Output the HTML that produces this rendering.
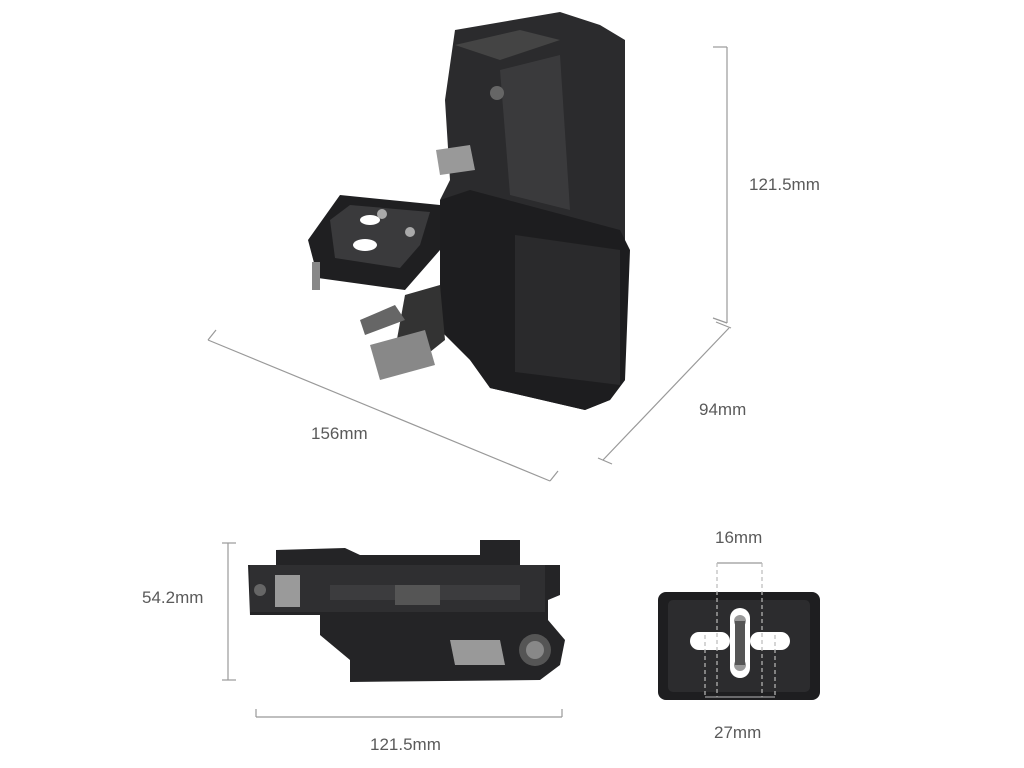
<!DOCTYPE html>
<html><head><meta charset="utf-8"><style>
html,body{margin:0;padding:0;background:#fff;width:1024px;height:768px;overflow:hidden}
svg{display:block}
text{font-family:"Liberation Sans",sans-serif;font-size:17px;fill:#5a5a5a}
</style></head><body>
<svg width="1024" height="768" viewBox="0 0 1024 768">
<g stroke="#999" stroke-width="1.2" fill="none">
<line x1="727" y1="47" x2="727" y2="323"/><line x1="713" y1="47" x2="727" y2="47"/><line x1="713" y1="318" x2="727" y2="323"/>
<line x1="729" y1="328" x2="603" y2="460"/><line x1="716" y1="322" x2="731" y2="328"/><line x1="598" y1="458" x2="612" y2="464"/>
<line x1="208" y1="340" x2="550" y2="481"/><line x1="208" y1="340" x2="216" y2="330"/><line x1="550" y1="481" x2="558" y2="471"/>
<line x1="228" y1="543" x2="228" y2="680"/><line x1="222" y1="543" x2="236" y2="543"/><line x1="222" y1="680" x2="236" y2="680"/>
<line x1="256" y1="717" x2="562" y2="717"/><line x1="256" y1="709" x2="256" y2="717"/><line x1="562" y1="709" x2="562" y2="717"/>
</g>
<text x="749" y="190">121.5mm</text>
<text x="699" y="415">94mm</text>
<text x="311" y="439">156mm</text>
<text x="142" y="603">54.2mm</text>
<text x="370" y="750">121.5mm</text>
<text x="715" y="543">16mm</text>
<text x="714" y="738">27mm</text>

<g>
<path d="M455 30 L560 12 L600 25 L625 40 L625 380 L610 400 L585 410 L490 388 L485 370 L470 360 L470 300 L445 280 L440 200 L450 180 L445 100 Z" fill="#2b2b2d"/>
<path d="M440 200 L470 190 L620 230 L630 250 L625 380 L610 400 L585 410 L490 388 L470 360 L440 330 Z" fill="#1d1d1f"/>
<path d="M515 235 L620 250 L620 385 L515 372 Z" fill="#2a2a2c"/>
<path d="M500 70 L560 55 L570 210 L510 195 Z" fill="#3a3a3c"/>
<path d="M455 45 L520 30 L560 40 L500 60 Z" fill="#444"/>
<circle cx="497" cy="93" r="7" fill="#666"/>
<path d="M308 240 L340 195 L440 205 L440 250 L405 290 L318 278 Z" fill="#1f1f21"/>
<path d="M330 220 L350 205 L430 212 L420 245 L400 268 L335 258 Z" fill="#3a3a3c"/>
<ellipse cx="370" cy="220" rx="10" ry="5" fill="#fff"/><ellipse cx="365" cy="245" rx="12" ry="6" fill="#fff"/>
<circle cx="382" cy="214" r="5" fill="#aaa"/><circle cx="410" cy="232" r="5" fill="#aaa"/>
<path d="M405 295 L440 285 L445 340 L420 360 L395 350 Z" fill="#333"/>
<path d="M360 320 L395 305 L405 320 L365 335 Z" fill="#666"/>
<path d="M370 345 L425 330 L435 365 L380 380 Z" fill="#888"/>
<path d="M436 150 L470 145 L475 170 L440 175 Z" fill="#999"/>
<path d="M312 262 L320 262 L320 290 L312 290 Z" fill="#888"/>
</g>

<g>
<path d="M276 550 L345 548 L360 555 L480 555 L480 540 L520 540 L520 565 L560 565 L560 595 L548 600 L548 620 L565 640 L560 665 L540 680 L350 682 L350 660 L320 635 L320 615 L250 615 L248 565 L276 565 Z" fill="#242426"/>
<path d="M250 565 L545 565 L545 612 L250 612 Z" fill="#2f2f31"/>
<path d="M330 585 L520 585 L520 600 L330 600 Z" fill="#3c3c3e"/>
<rect x="275" y="575" width="25" height="32" fill="#9a9a9a"/>
<rect x="395" y="585" width="45" height="20" fill="#555"/>
<path d="M450 640 L500 640 L505 665 L455 665 Z" fill="#999"/>
<circle cx="535" cy="650" r="16" fill="#555"/><circle cx="535" cy="650" r="9" fill="#888"/>
<circle cx="260" cy="590" r="6" fill="#666"/>
</g>

<g>
<rect x="658" y="592" width="162" height="108" rx="8" fill="#1e1e20"/>
<rect x="668" y="600" width="142" height="92" rx="5" fill="#2c2c2e"/>
<rect x="690" y="632" width="40" height="18" rx="9" fill="#fff"/>
<rect x="750" y="632" width="40" height="18" rx="9" fill="#fff"/>
<rect x="730" y="608" width="20" height="70" rx="10" fill="#fff"/>
<circle cx="740" cy="621" r="6" fill="#999"/><circle cx="740" cy="665" r="6" fill="#999"/>
<rect x="735" y="621" width="10" height="44" fill="#555"/>
</g>
<g stroke="#bbb" stroke-width="1.2" fill="none">
<line x1="717" y1="563" x2="762" y2="563" stroke="#999"/>
<line x1="717" y1="563" x2="717" y2="697" stroke-dasharray="4 3"/><line x1="762" y1="563" x2="762" y2="697" stroke-dasharray="4 3"/>
<line x1="705" y1="697" x2="775" y2="697" stroke="#999"/>
<line x1="705" y1="635" x2="705" y2="697" stroke-dasharray="4 3"/><line x1="775" y1="635" x2="775" y2="697" stroke-dasharray="4 3"/>
</g>
</svg>
</body></html>
